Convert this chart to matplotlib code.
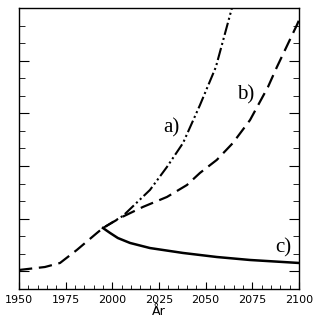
import numpy as np
import matplotlib
matplotlib.use('Agg')
import matplotlib.pyplot as plt
from matplotlib.ticker import MultipleLocator

# curve values (y in units of the minor tick spacing)
yr_b = [1950, 1963.9, 1972, 1981, 1991.8, 1995, 2004.1, 2016.4, 2029.3, 2040,
        2047, 2056, 2064.6, 2073.8, 2083.4, 2088.2, 2098.9, 2100]
val_b = [1.08, 1.25, 1.48, 2.22, 3.19, 3.47, 4.04, 4.67, 5.24, 5.92,
         6.61, 7.35, 8.31, 9.62, 11.5, 12.64, 15.03, 15.3]

yr_a = [1995, 2005.7, 2020.2, 2029.3, 2037.9, 2047, 2055.5, 2064.1, 2066]
val_a = [3.47, 4.16, 5.64, 6.95, 8.31, 10.48, 12.64, 16.0, 16.5]

yr_c = [1995, 1998.8, 2003, 2009.5, 2020.2, 2037.9, 2056, 2073.8, 2100]
val_c = [3.47, 3.19, 2.9, 2.62, 2.33, 2.05, 1.82, 1.65, 1.48]

xticks = [1950, 1975, 2000, 2025, 2050, 2075, 2100]

fig = plt.figure(figsize=(3.16, 3.2), dpi=100)
ax = fig.add_axes([0.060, 0.097, 0.886, 0.878])

ax.plot(yr_b, val_b, color='black', lw=1.6, linestyle=(0, (6, 3)))
ax.plot(yr_a, val_a, color='black', lw=1.5, linestyle=(0, (6, 1.5, 1, 1.5, 1, 1.5)))
ax.plot(yr_c, val_c, color='black', lw=1.8, linestyle='-')

ax.text(2027.5, 8.9, 'a)', family='Liberation Serif', fontsize=15)
ax.text(2067, 10.8, 'b)', family='Liberation Serif', fontsize=15)
ax.text(2087.5, 2.1, 'c)', family='Liberation Serif', fontsize=15)

ax.set_xlim(1950, 2100)
ax.set_ylim(0, 16)
ax.set_xticks(xticks)
ax.xaxis.set_minor_locator(MultipleLocator(5))
ax.set_yticks([1, 4, 7, 10, 13])
ax.yaxis.set_minor_locator(MultipleLocator(1))
ax.set_yticklabels([])
ax.tick_params(axis='both', which='both', direction='in', labelsize=8, color='black')
ax.tick_params(axis='y', which='both', left=True, right=True)
ax.tick_params(axis='x', which='major', length=5, pad=4)
ax.tick_params(axis='x', which='minor', length=3)
ax.tick_params(axis='y', which='major', length=7)
ax.tick_params(axis='y', which='minor', length=4)
for s in ax.spines.values():
    s.set_linewidth(1)
ax.set_xlabel('År', fontsize=9, labelpad=0)

fig.savefig('out.png', dpi=100)
